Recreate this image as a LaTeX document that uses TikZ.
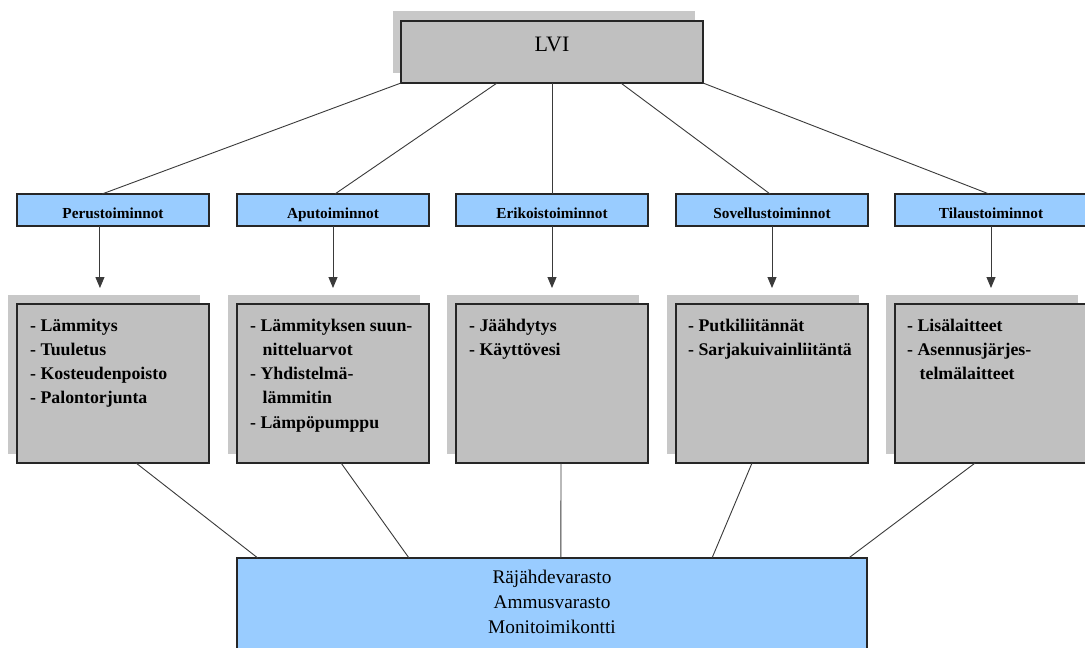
\documentclass[tikz,border=0pt]{standalone}
\usepackage{fontspec}
\setmainfont{Liberation Serif}
\usetikzlibrary{arrows.meta,calc,shadows}
\definecolor{boxgray}{HTML}{C0C0C0}
\definecolor{shadegray}{HTML}{C8C8C8}
\definecolor{paleblue}{HTML}{99CCFF}
\definecolor{edgegray}{HTML}{3A3A3A}

\begin{document}
\begin{tikzpicture}[x=1pt,y=-1pt,
  frame/.style={draw=black!85, line width=1.2pt, inner sep=0pt, outer sep=0pt, anchor=north west},
  topbox/.style={frame, fill=boxgray, minimum width=302pt, minimum height=62pt,
    general shadow={shadow xshift=-8pt, shadow yshift=10pt, fill=shadegray},
    font=\fontsize{22}{26}\selectfont, text height=2pt, text depth=4pt},
  groupbox/.style={frame, fill=paleblue, minimum width=192pt, minimum height=32pt,
    font=\bfseries\fontsize{15.3}{18}\selectfont, text height=16pt, text depth=0pt},
  listbox/.style={frame, fill=boxgray, minimum width=192pt, minimum height=159pt,
    general shadow={shadow xshift=-9pt, shadow yshift=9pt, fill=shadegray}},
  % the base anchor of a multi-line node sits on its last line
  listtext/.style={anchor=base west, inner sep=0pt, align=left,
    font=\bfseries\fontsize{17.8}{24.25}\selectfont},
  basebox/.style={frame, fill=paleblue, minimum width=630pt, minimum height=110pt},
  basetext/.style={anchor=base, inner sep=0pt, align=center,
    font=\fontsize{19.3}{25}\selectfont},
  link/.style={draw=edgegray, line width=0.9pt},
  feed/.style={link, -{Triangle[length=11pt,width=9pt]}, shorten >=16pt}
]
\useasboundingbox (0,0) rectangle (1085,648);
\fill[white] (0,0) rectangle (1085,648);
\clip (0,0) rectangle (1085,648);

% head box
\node[topbox] (lvi) at (401,21) {LVI};

% function groups
\node[groupbox] (b1) at (17,194)  {Perustoiminnot};
\node[groupbox] (b2) at (237,194) {Aputoiminnot};
\node[groupbox] (b3) at (456,194) {Erikoistoiminnot};
\node[groupbox] (b4) at (676,194) {Sovellustoiminnot};
\node[groupbox] (b5) at (895,194) {Tilaustoiminnot};

% content boxes
\node[listbox] (g1) at (17,304)  {};
\node[listbox] (g2) at (237,304) {};
\node[listbox] (g3) at (456,304) {};
\node[listbox] (g4) at (676,304) {};
\node[listbox] (g5) at (895,304) {};

\node[listtext] (t1) at ($(g1.north west)+(13,99.75)$)
  {- Lämmitys\\- Tuuletus\\- Kosteudenpoisto\\- Palontorjunta};
\node[listtext] (t2) at ($(g2.north west)+(13,124)$)
  {- Lämmityksen suun-\\\hspace*{12.5pt}nitteluarvot\\- Yhdistelmä-\\\hspace*{12.5pt}lämmitin\\- Lämpöpumppu};
\node[listtext] (t3) at ($(g3.north west)+(13,51.25)$)
  {- Jäähdytys\\- Käyttövesi};
\node[listtext] (t4) at ($(g4.north west)+(12,51.25)$)
  {- Putkiliitännät\\- Sarjakuivainliitäntä};
\node[listtext] (t5) at ($(g5.north west)+(12,75.5)$)
  {- Lisälaitteet\\- Asennusjärjes-\\\hspace*{12.5pt}telmälaitteet};

% storage box
\node[basebox] (base) at (237,558) {};
\node[basetext] (bt) at ($(base.north)+(0,75)$)
  {Räjähdevarasto\\Ammusvarasto\\Monitoimikontti};

% head to groups
\draw[link] (lvi.south west) -- ($(b1.north west)!0.443!(b1.north east)$);
\draw[link] ($(lvi.south west)!0.318!(lvi.south east)$) -- ($(b2.north west)!0.51!(b2.north east)$);
\draw[link] (lvi.south) -- (b3.north);
\draw[link] ($(lvi.south west)!0.728!(lvi.south east)$) -- ($(b4.north west)!0.49!(b4.north east)$);
\draw[link] (lvi.south east) -- ($(b5.north west)!0.49!(b5.north east)$);

% groups to content
\draw[feed] ($(b1.south west)!0.432!(b1.south east)$) -- ($(g1.north west)!0.432!(g1.north east)$);
\draw[feed] (b2.south) -- (g2.north);
\draw[feed] (b3.south) -- (g3.north);
\draw[feed] (b4.south) -- (g4.north);
\draw[feed] (b5.south) -- (g5.north);

% content to storage
\draw[link] ($(g1.south west)!0.62!(g1.south east)$)  -- ($(base.north west)!0.033!(base.north east)$);
\draw[link] ($(g2.south west)!0.542!(g2.south east)$) -- ($(base.north west)!0.273!(base.north east)$);
\draw[link] ($(g3.south west)!0.547!(g3.south east)$) -- ($(base.north west)!0.514!(base.north east)$);
\draw[link] ($(g4.south west)!0.396!(g4.south east)$) -- ($(base.north west)!0.754!(base.north east)$);
\draw[link] ($(g5.south west)!0.417!(g5.south east)$) -- ($(base.north west)!0.971!(base.north east)$);
\end{tikzpicture}
\end{document}
